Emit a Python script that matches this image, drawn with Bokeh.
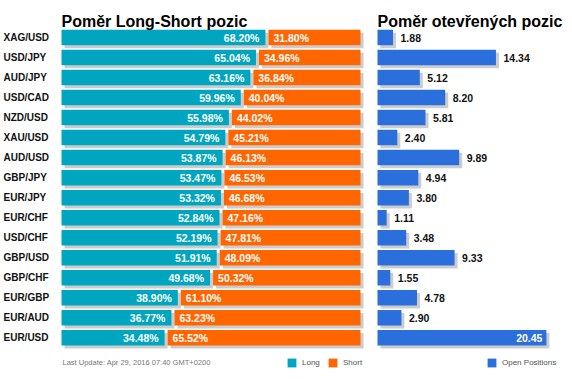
from bokeh.plotting import figure
from bokeh.models import Range1d, ColumnDataSource, Label, Legend, LegendItem
from bokeh.core.properties import value
from bokeh.embed import file_html
from bokeh.resources import INLINE

# ---------------- data ----------------
pairs = ["XAG/USD", "USD/JPY", "AUD/JPY", "USD/CAD", "NZD/USD", "XAU/USD",
         "AUD/USD", "GBP/JPY", "EUR/JPY", "EUR/CHF", "USD/CHF", "GBP/USD",
         "GBP/CHF", "EUR/GBP", "EUR/AUD", "EUR/USD"]
long_pct = [68.20, 65.04, 63.16, 59.96, 55.98, 54.79, 53.87, 53.47,
            53.32, 52.84, 52.19, 51.91, 49.68, 38.90, 36.77, 34.48]
short_pct = [31.80, 34.96, 36.84, 40.04, 44.02, 45.21, 46.13, 46.53,
             46.68, 47.16, 47.81, 48.09, 50.32, 61.10, 63.23, 65.52]
open_pos = [1.88, 14.34, 5.12, 8.20, 5.81, 2.40, 9.89, 4.94,
            3.80, 1.11, 3.48, 9.33, 1.55, 4.78, 2.90, 20.45]

title_left = "Poměr Long-Short pozic"
title_right = "Poměr otevřených pozic"
footer = "Last Update: Apr 29, 2016 07:40 GMT+0200"

# ---------------- layout (pixels, relative to the canvas) ----------------
W, H = 566, 374
PX_L = 2.99          # px per percent
ZERO_L = 61          # canvas px of 0 %
PX_R = 8.26          # px per open-position unit
ZERO_R = 377         # canvas px of 0 for open positions
PITCH = 20.02        # px per row
ROW0 = 37            # canvas px (from top) of first row centre

TEAL = "#00A6BF"
ORANGE = "#FF6600"
BLUE = "#2A6FDB"
SHADOW = "#CCCCCC"
FONT_NAME = "Liberation Sans"
FONT = value(FONT_NAME)

x_range = Range1d(-ZERO_L / PX_L, (W - ZERO_L) / PX_L)
y_range = Range1d((H - ROW0) / PITCH, -ROW0 / PITCH)

def py(px):
    """canvas y pixel -> row units"""
    return (px - ROW0) / PITCH

p = figure(width=W, height=H, x_range=x_range, y_range=y_range,
           output_backend="svg", toolbar_location=None, min_border=0,
           background_fill_color="white", border_fill_color="white")
p.extra_x_ranges = {"op": Range1d(-ZERO_R / PX_R, (W - ZERO_R) / PX_R)}
p.axis.visible = False
p.grid.visible = False
p.outline_line_color = None

n = len(pairs)
rows = list(range(n))
GAP = 3 / PX_L              # gap between long and short bars
DXL = 3 / PX_L              # shadow offsets
DXR = 3 / PX_R
DY = 3 / PITCH
BAR_H = 15.5 / PITCH

src = ColumnDataSource(dict(
    y=rows,
    ys=[r + DY for r in rows],
    pair=pairs,
    long=long_pct,
    short_start=[l + GAP for l in long_pct],
    short_end=[l + s for l, s in zip(long_pct, short_pct)],
    long_sh_l=[DXL] * n,
    long_sh_r=[l + DXL for l in long_pct],
    short_sh_l=[l + GAP + DXL for l in long_pct],
    short_sh_r=[l + s + DXL for l, s in zip(long_pct, short_pct)],
    long_lbl=[f"{v:.2f}%" for v in long_pct],
    short_lbl=[f"{v:.2f}%" for v in short_pct],
    long_lbl_x=[l - 6 / PX_L for l in long_pct],
    short_lbl_x=[l + GAP + 5 / PX_L for l in long_pct],
    op=open_pos,
    op_sh_l=[DXR] * n,
    op_sh_r=[v + DXR for v in open_pos],
))

# shadows
p.hbar(y="ys", left="long_sh_l", right="long_sh_r", height=BAR_H, source=src,
       fill_color=SHADOW, line_color=None)
p.hbar(y="ys", left="short_sh_l", right="short_sh_r", height=BAR_H, source=src,
       fill_color=SHADOW, line_color=None)
p.hbar(y="ys", left="op_sh_l", right="op_sh_r", height=BAR_H, source=src,
       fill_color=SHADOW, line_color=None, x_range_name="op")

# bars
r_long = p.hbar(y="y", left=0, right="long", height=BAR_H, source=src,
                fill_color=TEAL, line_color=None)
r_short = p.hbar(y="y", left="short_start", right="short_end", height=BAR_H,
                 source=src, fill_color=ORANGE, line_color=None)
r_op = p.hbar(y="y", left=0, right="op", height=BAR_H, source=src,
              fill_color=BLUE, line_color=None, x_range_name="op")

# category labels
p.text(x=x_range.start + 3 / PX_L, y="y", text="pair", source=src,
       text_font=FONT, text_font_style="bold", text_font_size="10px",
       text_color="#111111", text_baseline="middle", text_align="left")

# percentage labels
p.text(x="long_lbl_x", y="y", text="long_lbl", source=src,
       text_font=FONT, text_font_style="bold", text_font_size="10.5px",
       text_color="white", text_baseline="middle", text_align="right")
p.text(x="short_lbl_x", y="y", text="short_lbl", source=src,
       text_font=FONT, text_font_style="bold", text_font_size="10.5px",
       text_color="white", text_baseline="middle", text_align="left")

# open position labels (inside bar if the bar is long)
INSIDE = 18
out_x, out_t, in_x, in_t, out_y, in_y = [], [], [], [], [], []
for r, v in zip(rows, open_pos):
    if v > INSIDE:
        in_x.append(v - 4 / PX_R); in_t.append(f"{v:.2f}"); in_y.append(r)
    else:
        out_x.append(v + 7.5 / PX_R); out_t.append(f"{v:.2f}"); out_y.append(r)
p.text(x=out_x, y=out_y, text=out_t, x_range_name="op",
       text_font=FONT, text_font_style="bold", text_font_size="10.5px",
       text_color="#111111", text_baseline="middle", text_align="left")
p.text(x=in_x, y=in_y, text=in_t, x_range_name="op",
       text_font=FONT, text_font_style="bold", text_font_size="10.5px",
       text_color="white", text_baseline="middle", text_align="right")

# titles
TITLE_Y = py(21)
p.add_layout(Label(x=0, y=TITLE_Y, text=title_left, text_font=FONT_NAME,
                   text_font_style="bold", text_font_size="16px",
                   text_color="black", text_baseline="alphabetic"))
p.add_layout(Label(x=0, y=TITLE_Y, x_range_name="op", text=title_right,
                   text_font=FONT_NAME, text_font_style="bold",
                   text_font_size="16px", text_color="black",
                   text_baseline="alphabetic"))

# footer
p.add_layout(Label(x=1 / PX_L, y=py(362.3), text=footer,
                   text_font=FONT_NAME, text_font_size="7.5px",
                   text_color="#777777", text_baseline="alphabetic"))

# legends
def make_legend(items, x):
    return Legend(items=items, orientation="horizontal", location=(x, H - 368),
                  padding=0, margin=0, spacing=5, glyph_width=11,
                  glyph_height=11, label_height=11, label_standoff=5,
                  label_text_font=FONT_NAME, label_text_font_size="8px",
                  label_text_color="#555555", border_line_color=None,
                  background_fill_alpha=0)

p.add_layout(make_legend([LegendItem(label="Long", renderers=[r_long]),
                          LegendItem(label="Short", renderers=[r_short])], 286))
p.add_layout(make_legend([LegendItem(label="Open Positions", renderers=[r_op])], 486))

open("out.html", "w").write(file_html(p, INLINE))
